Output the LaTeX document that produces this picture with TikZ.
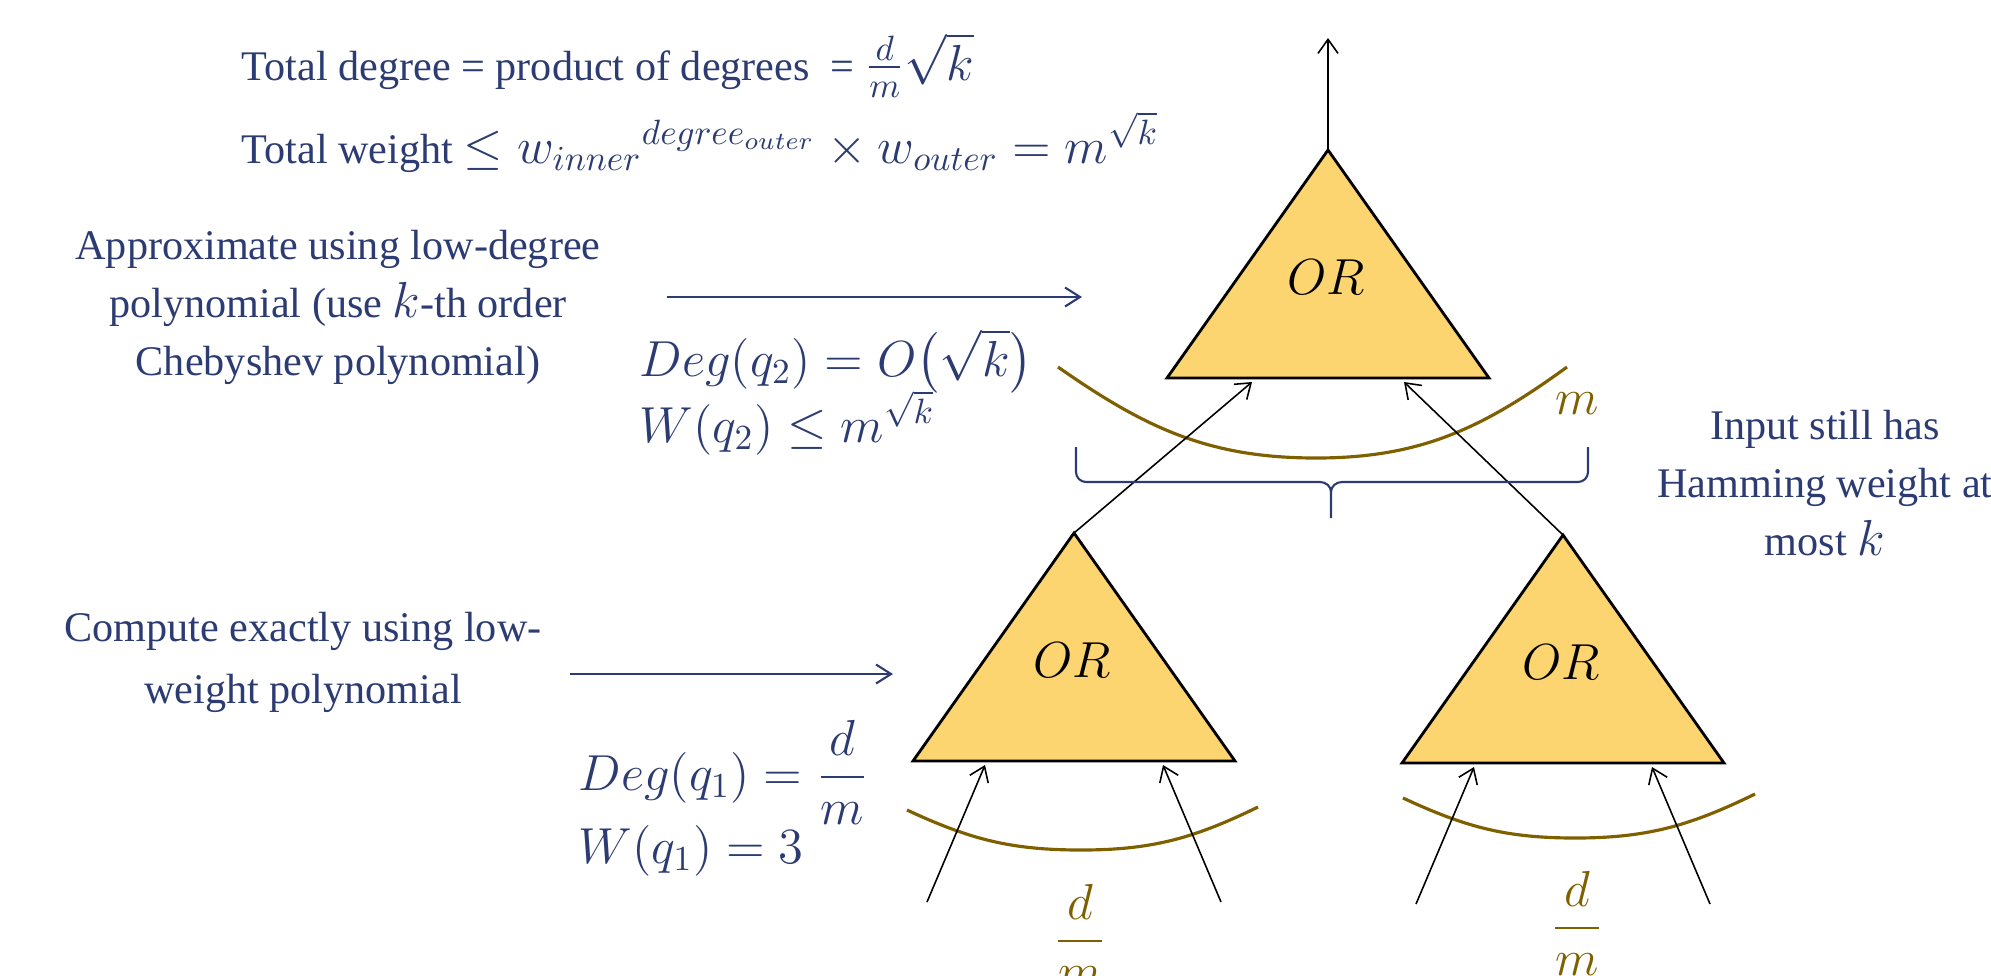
\documentclass[tikz,border=0pt]{standalone}
\usepackage{amsmath}
\usepackage{fontspec}
\setmainfont{Liberation Serif}
\usetikzlibrary{arrows.meta,calc,positioning}

\definecolor{inkblue}{RGB}{44,60,115}
\definecolor{gold}{RGB}{127,96,0}
\definecolor{gatefill}{RGB}{252,212,112}

\newcommand{\mth}[1]{{\fontsize{14}{16}\selectfont$#1$}}

\begin{document}
\begin{tikzpicture}[
    x=0.01cm, y=-0.01cm,
    note/.style={text=inkblue, align=center, inner sep=0pt, font=\fontsize{12}{16.5}\selectfont},
    formula/.style={text=inkblue, anchor=base west, inner sep=0pt, font=\fontsize{14.5}{18}\selectfont},
    gate/.style={draw=black, line width=0.8pt, fill=gatefill},
    gatelabel/.style={font=\fontsize{14}{16}\selectfont},
    wire/.style={-{Straight Barb[length=1.4mm,width=2mm]}, line width=0.45pt},
    hint/.style={-{Straight Barb[length=1.5mm,width=1.9mm]}, draw=inkblue, line width=0.6pt},
    fan/.style={draw=gold, line width=0.9pt},
    fanlabel/.style={text=gold, inner sep=0pt, font=\fontsize{15}{18}\selectfont},
    brace/.style={draw=inkblue, line width=0.6pt}
]
\useasboundingbox (0,0) rectangle (1991,975);

% Gates (apex x / apex y / name / input spread)
\foreach \gx/\gy/\g/\gs in {1328/150/top/76, 1074/533/left/89, 1563/535/right/89} {
    \coordinate (\g-apex) at (\gx,\gy);
    \coordinate (\g-bl) at (\gx-161,\gy+228);
    \coordinate (\g-br) at (\gx+161,\gy+228);
    \draw[gate] (\g-apex) -- (\g-bl) -- (\g-br) -- cycle;
    \node[gatelabel] (\g-or) at (\gx-2,\gy+127) {$OR$};
    \coordinate (\g-in1) at (\gx-\gs,\gy+232);
    \coordinate (\g-in2) at (\gx+\gs,\gy+232);
    \coordinate (\g-src1) at (\gx-147,\gy+369);
    \coordinate (\g-src2) at (\gx+147,\gy+369);
}

% Fan-in curves and their sizes
\draw[fan] (1058,367) to[out=-35,in=180] (1316,458) to[out=0,in=-144] (1567,367);
\draw[fan] (907,810) to[out=-25,in=180] (1081,850) to[out=0,in=-154] (1258,807);
\draw[fan] (1403,798) to[out=-25,in=180] (1575,838) to[out=0,in=-154] (1755,794);
\node[fanlabel] (mtop) at (1577,404) {$m$};
\node[fanlabel] (dmleft) at (1080,936) {$\dfrac{d}{m}$};
\node[fanlabel] (dmright) at (1577,923) {$\dfrac{d}{m}$};

% Wires
\coordinate (out) at (1328,38);
\draw[wire] (top-apex) -- (out);
\draw[wire] (left-apex) -- (top-in1);
\draw[wire] (right-apex) -- (top-in2);
\foreach \g in {left,right} {
    \draw[wire] (\g-src1) -- (\g-in1);
    \draw[wire] (\g-src2) -- (\g-in2);
}

% Brace under the middle layer
\draw[brace] (1076,447) -- (1076,472) to[out=-90,in=180] (1086,482) -- (1320,482) to[out=0,in=90] (1331,492) -- (1331,518);
\draw[brace] (1588,447) -- (1588,472) to[out=-90,in=0] (1578,482) -- (1342,482) to[out=180,in=90] (1331,492);

% Totals
\node[note, anchor=base west] (totdeg) at (241,80) {Total degree = product of degrees\ \ = \mth{\frac{d}{m}\sqrt{k}}};
\node[note, anchor=base west] (totwt) at (241,163) {Total weight \mth{\leq {w_{inner}}^{degree_{outer}} \times w_{outer} = m^{\sqrt{k}}}};

% Notes
\node[note] (approx) at (338,307) {Approximate using low-degree\\polynomial (use \mth{k}-th order\\Chebyshev polynomial)};
\node[note, font=\fontsize{12}{17.6}\selectfont] (exact) at (303,662) {Compute exactly using low-\\weight polynomial};
\node[note] (input) at (1825,483) {Input still has\\Hamming weight at\\most \mth{k}};

\coordinate (approx-from) at (667,297);
\coordinate (approx-to) at (1082,297);
\draw[hint] (approx-from) -- (approx-to);
\coordinate (exact-from) at (570,674);
\coordinate (exact-to) at (893,674);
\draw[hint] (exact-from) -- (exact-to);

% Degree and weight per layer
\node[formula] (degtwo) at (639,376) {$Deg(q_2) = O\bigl(\sqrt{k}\bigr)$};
\node[formula] (wtwo) at (639,442) {$W(q_2) \leq m^{\sqrt{k}}$};
\node[formula] (degone) at (578,790) {$Deg(q_1) = \dfrac{d}{m}$};
\node[formula] (wone) at (578,863) {$W(q_1) = 3$};

\end{tikzpicture}
\end{document}
